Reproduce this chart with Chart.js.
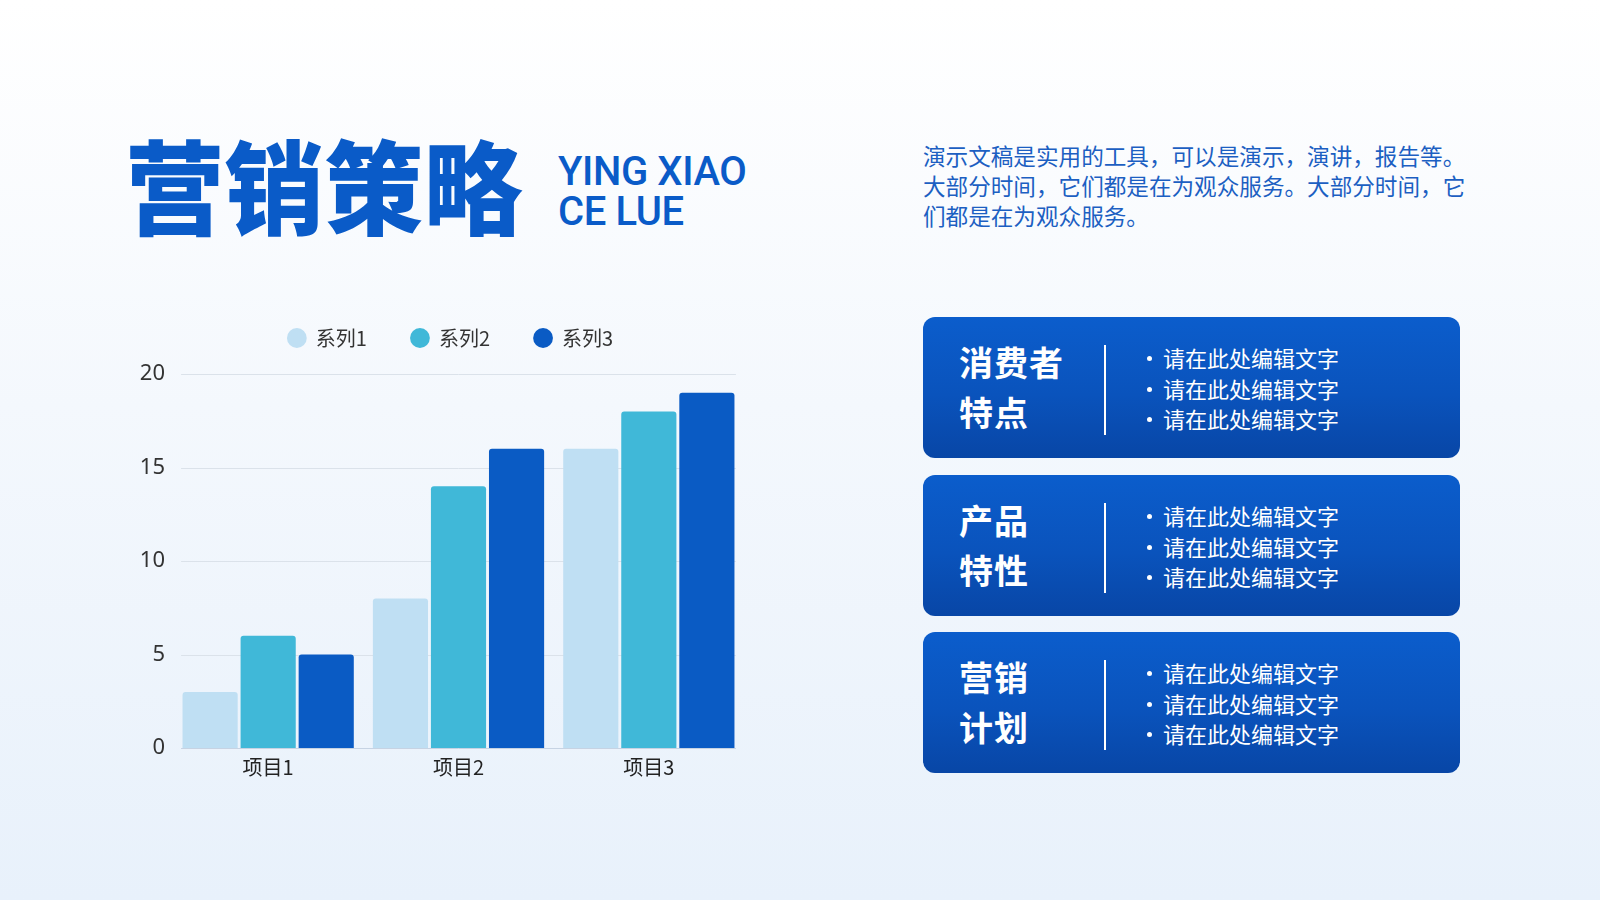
<!DOCTYPE html>
<html lang="zh-CN">
<head>
<meta charset="utf-8">
<title>营销策略</title>
<script src="https://cdn.jsdelivr.net/npm/chart.js@4.4.1/dist/chart.umd.min.js"></script>
<style>
    html, body {
        margin: 0;
        padding: 0;
    }
    body {
        width: 1600px;
        height: 900px;
        overflow: hidden;
        position: relative;
        font-family: "Noto Sans CJK SC", "Noto Sans", sans-serif;
        background: linear-gradient(180deg, #ffffff 0%, #f4f8fd 45%, #e8f1fb 100%);
    }
    .title {
        position: absolute;
        left: 125px;
        top: 122px;
        font-size: 102px;
        font-weight: 900;
        line-height: 1.2;
        color: #0a5bc8;
        transform: scaleX(0.975);
        transform-origin: left top;
        white-space: nowrap;
    }
    .subtitle {
        position: absolute;
        left: 558px;
        top: 152px;
        font-family: Roboto, "Noto Sans", sans-serif;
        font-size: 40px;
        font-weight: 500;
        line-height: 40px;
        color: #0a5bc8;
        letter-spacing: -0.4px;
        white-space: nowrap;
    }
    .intro {
        position: absolute;
        left: 923px;
        top: 141px;
        font-size: 22.6px;
        line-height: 30px;
        color: #1c5fc2;
        white-space: nowrap;
    }
    .card {
        position: absolute;
        left: 923px;
        width: 537px;
        height: 141px;
        border-radius: 12px;
        background: linear-gradient(180deg, #0b5dcc 0%, #0a53bc 55%, #0846a6 100%);
        color: #fff;
    }
    .card h3 {
        position: absolute;
        left: 36px;
        top: 20px;
        margin: 0;
        font-size: 34px;
        font-weight: 700;
        line-height: 50px;
        letter-spacing: 1px;
    }
    .card .divider {
        position: absolute;
        left: 181px;
        top: 28px;
        width: 2px;
        height: 90px;
        background: #ffffff;
    }
    .card ul {
        position: absolute;
        left: 224px;
        top: 25px;
        margin: 0;
        padding: 0;
        list-style: none;
        font-size: 22px;
    }
    .card li {
        height: 30.6px;
        line-height: 30.6px;
        white-space: nowrap;
    }
    .card li::before {
        content: "";
        display: inline-block;
        width: 5px;
        height: 5px;
        border-radius: 50%;
        background: #ffffff;
        margin-right: 11px;
        vertical-align: 6px;
    }
    #chartWrap {
        position: absolute;
        left: 100px;
        top: 284px;
        width: 644px;
        height: 520px;
    }
</style>
</head>
<body>
    <div class="title">营销策略</div>
    <div class="subtitle">YING XIAO<br>CE LUE</div>
    <div class="intro">演示文稿是实用的工具，可以是演示，演讲，报告等。<br>大部分时间，它们都是在为观众服务。大部分时间，它<br>们都是在为观众服务。</div>

    <div class="card" style="top: 317px;">
        <h3>消费者<br>特点</h3>
        <div class="divider"></div>
        <ul><li>请在此处编辑文字</li><li>请在此处编辑文字</li><li>请在此处编辑文字</li></ul>
    </div>
    <div class="card" style="top: 475px;">
        <h3>产品<br>特性</h3>
        <div class="divider"></div>
        <ul><li>请在此处编辑文字</li><li>请在此处编辑文字</li><li>请在此处编辑文字</li></ul>
    </div>
    <div class="card" style="top: 632px;">
        <h3>营销<br>计划</h3>
        <div class="divider"></div>
        <ul><li>请在此处编辑文字</li><li>请在此处编辑文字</li><li>请在此处编辑文字</li></ul>
    </div>

    <div id="chartWrap"><canvas id="barChart"></canvas></div>

<script>
// Chart data
const categories = ['项目1', '项目2', '项目3'];
const seriesNames = ['系列1', '系列2', '系列3'];
const series1 = [3, 8, 16];
const series2 = [6, 14, 18];
const series3 = [5, 16, 19];
const yTicks = [0, 5, 10, 15, 20];

const seriesColors = ['#bfdff3', '#40b8d8', '#0a5bc4'];
const CATEGORY_PCT = 0.915;

// Legend block as tall as the gap above the plot, nudged a little left
const legendTweak = {
    id: 'legendTweak',
    beforeInit(chart) {
        const legend = chart.legend;
        const fit = legend.fit;
        const draw = legend.draw;
        legend.fit = function () {
            fit.call(this);
            this.height = 90;
        };
        legend.draw = function () {
            const ctx = this.ctx;
            ctx.save();
            ctx.translate(-8, 0);
            draw.call(this);
            ctx.restore();
        };
    }
};

// Gridlines only under the bar groups, not the full plot width
const insetGrid = {
    id: 'insetGrid',
    beforeDatasetsDraw(chart) {
        const { ctx, scales } = chart;
        const x = scales.x;
        const half = x.width / categories.length * CATEGORY_PCT / 2;
        const left = x.getPixelForValue(0) - half;
        const right = x.getPixelForValue(categories.length - 1) + half;
        ctx.save();
        ctx.lineWidth = 1;
        scales.y.ticks.forEach(t => {
            const y = Math.round(scales.y.getPixelForValue(t.value)) + 0.5;
            ctx.strokeStyle = t.value === 0 ? '#c6d3e3' : '#dbe2ea';
            ctx.beginPath();
            ctx.moveTo(left, y);
            ctx.lineTo(right, y);
            ctx.stroke();
        });
        ctx.restore();
    }
};

const values = [series1, series2, series3];

new Chart(document.getElementById('barChart'), {
    type: 'bar',
    data: {
        labels: categories,
        datasets: seriesNames.map((name, i) => ({
            label: name,
            data: values[i],
            backgroundColor: seriesColors[i],
            borderRadius: { topLeft: 3, topRight: 3 },
            borderSkipped: 'bottom',
            categoryPercentage: CATEGORY_PCT,
            barPercentage: 0.95
        }))
    },
    options: {
        responsive: true,
        maintainAspectRatio: false,
        animation: false,
        layout: { padding: 0 },
        plugins: {
            legend: {
                position: 'top',
                align: 'center',
                fullSize: false,
                labels: {
                    usePointStyle: true,
                    pointStyle: 'circle',
                    boxWidth: 18,
                    boxHeight: 14,
                    padding: 44,
                    color: '#333333',
                    font: { family: '"Noto Sans CJK SC", sans-serif', size: 20 }
                }
            },
            tooltip: { enabled: false }
        },
        scales: {
            x: {
                grid: { display: false, drawTicks: false },
                border: { display: false },
                ticks: {
                    color: '#222222',
                    padding: 7,
                    font: { family: '"Noto Sans CJK SC", sans-serif', size: 20 }
                },
                afterFit(scale) { scale.height = 56; }
            },
            y: {
                min: 0,
                max: 20,
                grid: { display: false, drawTicks: false },
                border: { display: false },
                afterBuildTicks(scale) {
                    scale.ticks = yTicks.map(v => ({ value: v }));
                },
                ticks: {
                    color: '#333333',
                    padding: 8,
                    font: { family: '"Noto Sans", sans-serif', size: 22 }
                },
                afterFit(scale) { scale.width = 73; }
            }
        }
    },
    plugins: [legendTweak, insetGrid]
});
</script>
</body>
</html>
